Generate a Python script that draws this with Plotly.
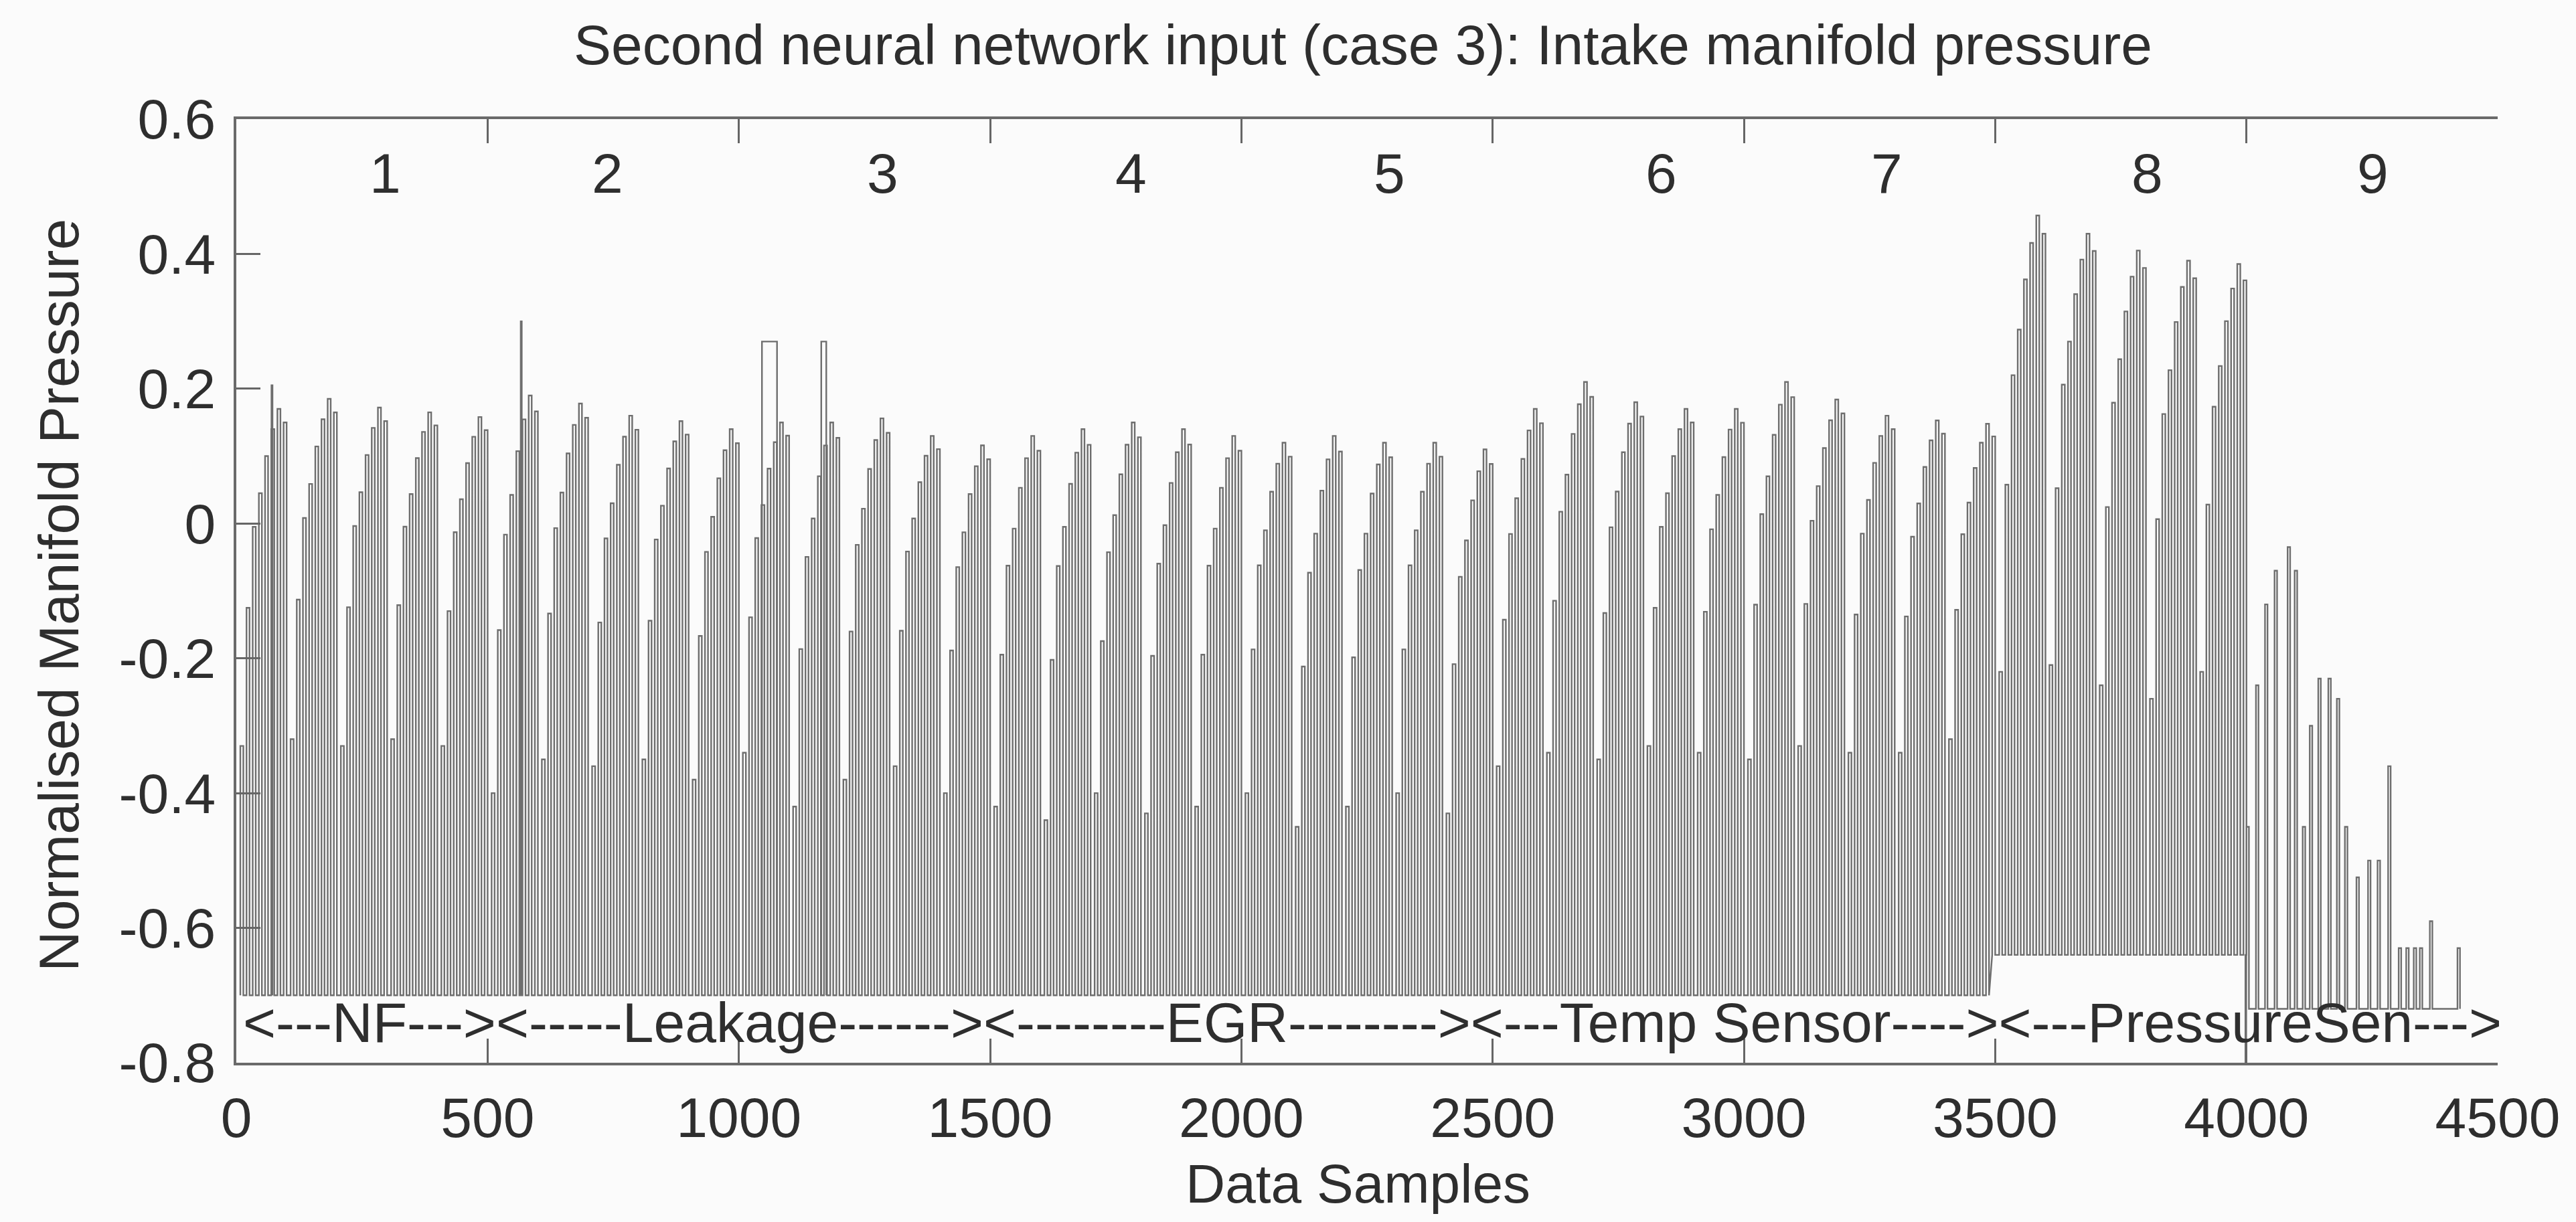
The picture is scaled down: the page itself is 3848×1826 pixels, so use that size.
import plotly.graph_objects as go

# ---------------- data ----------------
title_text = "Second neural network input (case 3): Intake manifold pressure"
x_title = "Data Samples"
y_title = "Normalised Manifold Pressure"

x_tick_vals = [0, 500, 1000, 1500, 2000, 2500, 3000, 3500, 4000, 4500]
x_tick_text = ["0", "500", "1000", "1500", "2000", "2500", "3000", "3500", "4000", "4500"]
y_tick_vals = [-0.8, -0.6, -0.4, -0.2, 0.0, 0.2, 0.4, 0.6]
y_tick_text = ["-0.8", "-0.6", "-0.4", "-0.2", "0", "0.2", "0.4", "0.6"]

case_labels = ["1", "2", "3", "4", "5", "6", "7", "8", "9"]
case_label_x = [296, 739, 1286, 1780, 2295, 2835, 3285, 3803, 4252]
section_text = "<---NF---><-----Leakage------><--------EGR--------><---Temp Sensor----><---PressureSen--->"

# envelope of each engine cycle (about 100 samples per cycle), cycles 0..39
cycle_peak = [0.170, 0.185, 0.172, 0.165, 0.158,
              0.190, 0.178, 0.160, 0.152, 0.140, 0.150, 0.150, 0.156, 0.130, 0.116,
              0.130, 0.140, 0.150, 0.140, 0.130, 0.120, 0.130, 0.120, 0.120, 0.110,
              0.170, 0.210, 0.180, 0.170, 0.170, 0.210, 0.184, 0.160, 0.153, 0.148,
              0.457, 0.430, 0.405, 0.390, 0.385]
cycle_low = [-0.33, -0.32, -0.33, -0.32, -0.33,
             -0.40, -0.35, -0.36, -0.35, -0.38, -0.34, -0.42, -0.38, -0.36, -0.40,
             -0.42, -0.44, -0.40, -0.43, -0.42, -0.40, -0.45, -0.42, -0.40, -0.43,
             -0.36, -0.34, -0.35, -0.33, -0.34, -0.35, -0.33, -0.34, -0.34, -0.32,
             -0.22, -0.21, -0.24, -0.26, -0.22]
# relative height of the 8 pulses inside one cycle (0 = cycle low, 1 = cycle peak)
pulse_profile = [0.0, 0.41, 0.65, 0.75, 0.86, 0.94, 1.0, 0.96]

# level the signal falls back to between pulses
floor_start = [0, 3490, 4000]
floor_level = [-0.70, -0.64, -0.72]

# irregular tail after sample 4000 (pressure sensor fault)
tail_x = [3998, 4000, 4019, 4037, 4056, 4082, 4096, 4112, 4126, 4143, 4163, 4180,
          4196, 4219, 4242, 4261, 4282, 4303, 4318, 4333, 4345, 4365, 4420]
tail_level = [-0.85, -0.45, -0.24, -0.12, -0.07, -0.035, -0.07, -0.45, -0.30, -0.23, -0.23, -0.26,
              -0.45, -0.525, -0.50, -0.50, -0.36, -0.63, -0.63, -0.63, -0.63, -0.59, -0.63]

# isolated features: spikes and flat-topped blocks
special_x = [70, 566, 1046, 1164]
special_level = [0.205, 0.300, 0.270, 0.270]
special_width = [2, 2, 30, 10]

# ---------------- build the trace ----------------
def floor_at(x):
    lvl = floor_level[0]
    for s, f in zip(floor_start, floor_level):
        if x >= s:
            lvl = f
    return lvl

CYCLE = 100
OFFSET = 8
PULSE_STEP = 12.3
PULSE_W = 6

xs, ys = [], []
for k, (pk, lo) in enumerate(zip(cycle_peak, cycle_low)):
    start = OFFSET + CYCLE * k
    for i, fr in enumerate(pulse_profile):
        x0 = start + PULSE_STEP * i
        lvl = lo + fr * (pk - lo)
        fl = floor_at(x0)
        xs += [x0, x0, x0 + PULSE_W, x0 + PULSE_W]
        ys += [fl, lvl, lvl, fl]

for x0, lvl in zip(tail_x, tail_level):
    fl = floor_at(x0)
    w = 1.5 if lvl < fl else 5
    xs += [x0, x0, x0 + w, x0 + w]
    ys += [fl, lvl, lvl, fl]

sx, sy = [], []
for x0, lvl, w in zip(special_x, special_level, special_width):
    fl = floor_at(x0)
    sx += [x0, x0, x0 + w, x0 + w, None]
    sy += [fl, lvl, lvl, fl, None]

LINE_COL = "#6e6e6e"
TEXT_COL = "#2e2e2e"
FONT = "Liberation Sans"

fig = go.Figure()
fig.add_trace(go.Scatter(x=xs, y=ys, mode="lines",
                         line=dict(color=LINE_COL, width=2.4), hoverinfo="skip"))
fig.add_trace(go.Scatter(x=sx, y=sy, mode="lines",
                         line=dict(color=LINE_COL, width=2.4), hoverinfo="skip"))

# ---------------- layout ----------------
L, R, T, B = 353, 117, 178, 238
W, H = 3848, 1826
pw, ph = W - L - R, H - T - B

def px_x(px):
    return (px - L) / pw

def px_y(py):
    return (H - B - py) / ph

fig.update_layout(
    width=W, height=H,
    margin=dict(l=L, r=R, t=T, b=B),
    paper_bgcolor="#fbfbfb", plot_bgcolor="#fbfbfb",
    showlegend=False,
    font=dict(family=FONT, size=84, color=TEXT_COL),
)
fig.update_xaxes(range=[0, 4500], tickvals=x_tick_vals, ticktext=x_tick_text,
                 ticks="inside", ticklen=36, tickwidth=3, tickcolor="#666",
                 showline=True, linewidth=4, linecolor="#6a6a6a", mirror="ticks",
                 showgrid=False, zeroline=False, ticklabelstandoff=6,
                 tickfont=dict(family=FONT, size=84, color=TEXT_COL))
fig.update_yaxes(range=[-0.8, 0.6], tickvals=y_tick_vals, ticktext=y_tick_text,
                 ticks="inside", ticklen=36, tickwidth=3, tickcolor="#666",
                 showline=True, linewidth=4, linecolor="#6a6a6a", mirror=False,
                 showgrid=False, zeroline=False, ticklabelstandoff=10,
                 tickfont=dict(family=FONT, size=84, color=TEXT_COL))

ann = []
ann.append(dict(text=title_text, xref="paper", yref="paper", x=px_x(2036), y=px_y(67),
                xanchor="center", yanchor="middle", showarrow=False,
                font=dict(family=FONT, size=84, color=TEXT_COL)))
ann.append(dict(text=x_title, xref="paper", yref="paper", x=px_x(2028), y=px_y(1768),
                xanchor="center", yanchor="middle", showarrow=False,
                font=dict(family=FONT, size=82, color=TEXT_COL)))
ann.append(dict(text=y_title, xref="paper", yref="paper", x=px_x(88), y=px_y(890),
                xanchor="center", yanchor="middle", textangle=-90, showarrow=False,
                font=dict(family=FONT, size=84, color=TEXT_COL)))
for lab, lx in zip(case_labels, case_label_x):
    ann.append(dict(text=lab, xref="x", yref="y", x=lx, y=0.52,
                    xanchor="center", yanchor="middle", showarrow=False,
                    font=dict(family=FONT, size=84, color=TEXT_COL)))
ann.append(dict(text=section_text.replace("<", "&lt;").replace(">", "&gt;"),
                xref="x", yref="y", x=10, y=-0.74,
                xanchor="left", yanchor="middle", showarrow=False,
                font=dict(family=FONT, size=84, color=TEXT_COL)))
fig.update_layout(annotations=ann)

fig.write_html("out.html")
